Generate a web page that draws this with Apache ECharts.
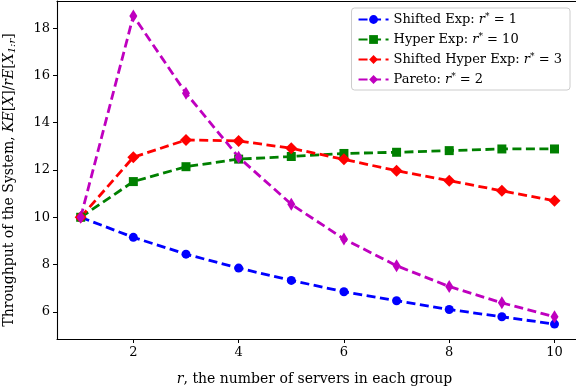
<!DOCTYPE html>
<html>
<head>
<meta charset="utf-8">
<script src="https://cdn.jsdelivr.net/npm/echarts@6/dist/echarts.min.js"></script>
<style>
  html, body { margin: 0; padding: 0; background: #fff; overflow: hidden; }
  #chart { width: 576px; height: 390px; }
</style>
</head>
<body>
<div id="chart"></div>
<script>
  // group sizes r
  var servers = [1, 2, 3, 4, 5, 6, 7, 8, 9, 10];
  // throughput per distribution
  var shiftedExp = [10, 9.15, 8.44, 7.85, 7.33, 6.85, 6.47, 6.10, 5.79, 5.48];
  var hyperExp = [10, 11.51, 12.14, 12.46, 12.57, 12.70, 12.75, 12.82, 12.89, 12.89];
  var shiftedHyperExp = [10, 12.54, 13.27, 13.23, 12.92, 12.45, 11.97, 11.55, 11.12, 10.70];
  var pareto = [10, 18.52, 15.25, 12.54, 10.55, 9.08, 7.95, 7.07, 6.38, 5.79];
  var xTicks = [2, 4, 6, 8, 10];
  var yTicks = [6, 8, 10, 12, 14, 16, 18];

  var font = '"DejaVu Serif", "Liberation Serif", serif';
  var spine = { show: true, lineStyle: { color: '#000', width: 1.1 } };

  function pairs(ys) {
    return servers.map(function (x, i) { return [x, ys[i]]; });
  }

  function makeSeries(name, ys, color, symbol, size) {
    return {
      name: name,
      type: 'line',
      data: pairs(ys),
      symbol: symbol,
      symbolSize: size,
      lineStyle: { color: color, width: 2.8, type: [9, 4.5] },
      itemStyle: { color: color },
      emphasis: { disabled: true },
      animation: false
    };
  }

  var chart = echarts.init(document.getElementById('chart'));
  chart.setOption({
    backgroundColor: '#fff',
    textStyle: { fontFamily: font },
    grid: {
      // the axes box runs just past the right edge of the picture
      left: 57, right: -8, top: 1, bottom: 51,
      outerBoundsMode: 'none',
      containLabel: false
    },
    legend: {
      orient: 'vertical',
      right: 6, top: 8,
      itemWidth: 30, itemHeight: 11, itemGap: 6,
      padding: [4, 8, 4, 6],
      backgroundColor: '#fff',
      borderColor: '#cccccc', borderWidth: 1, borderRadius: 3,
      textStyle: {
        fontFamily: font, fontSize: 13, color: '#000',
        rich: {
          i: { fontFamily: font, fontStyle: 'italic', fontSize: 13 },
          s: { fontFamily: font, fontSize: 9, verticalAlign: 'top', padding: [0, 0, 6, 0] }
        }
      },
      formatter: function (name) {
        var parts = name.split('|');
        return parts[0] + ': {i|r}{s|*} = ' + parts[1];
      },
      data: ['Shifted Exp|1', 'Hyper Exp|10', 'Shifted Hyper Exp|3', 'Pareto|2']
    },
    xAxis: [{
      type: 'value',
      min: 0.55, max: 10.56,
      name: '{i|r}, the number of servers in each group',
      nameLocation: 'middle', nameGap: 33,
      nameTextStyle: {
        fontFamily: font, fontSize: 14, color: '#000',
        padding: [0, 12, 0, 0],
        rich: { i: { fontFamily: font, fontStyle: 'italic', fontSize: 14 } }
      },
      axisLine: spine,
      axisTick: { show: true, inside: false, length: 4, customValues: xTicks, lineStyle: { color: '#000', width: 1 } },
      axisLabel: { customValues: xTicks, color: '#000', fontSize: 13, fontFamily: font, margin: 7 },
      splitLine: { show: false }
    }, {
      // top spine only
      type: 'value', position: 'top',
      min: 0.55, max: 10.56,
      axisLine: spine,
      axisTick: { show: false },
      axisLabel: { show: false },
      splitLine: { show: false }
    }],
    yAxis: {
      type: 'value',
      min: 4.85, max: 19.15,
      name: 'Throughput of the System, {i|KE}[{i|X}]/{i|rE}[{i|X}{s|1:r}]',
      nameLocation: 'middle', nameGap: 40,
      nameTextStyle: {
        fontFamily: font, fontSize: 14, color: '#000',
        padding: [0, 20, 0, 0],
        rich: {
          i: { fontFamily: font, fontStyle: 'italic', fontSize: 14 },
          s: { fontFamily: font, fontStyle: 'italic', fontSize: 10, verticalAlign: 'bottom', padding: [5, 0, 0, 0] }
        }
      },
      axisLine: spine,
      axisTick: { show: true, inside: false, length: 4, customValues: yTicks, lineStyle: { color: '#000', width: 1 } },
      axisLabel: { customValues: yTicks, color: '#000', fontSize: 13, fontFamily: font, margin: 7 },
      splitLine: { show: false }
    },
    series: [
      makeSeries('Shifted Exp|1', shiftedExp, '#0000ff', 'circle', 9),
      makeSeries('Hyper Exp|10', hyperExp, '#008000', 'rect', 9),
      makeSeries('Shifted Hyper Exp|3', shiftedHyperExp, '#ff0000', 'diamond', 12),
      makeSeries('Pareto|2', pareto, '#bf00bf', 'diamond', [8, 13])
    ]
  });
</script>
</body>
</html>
